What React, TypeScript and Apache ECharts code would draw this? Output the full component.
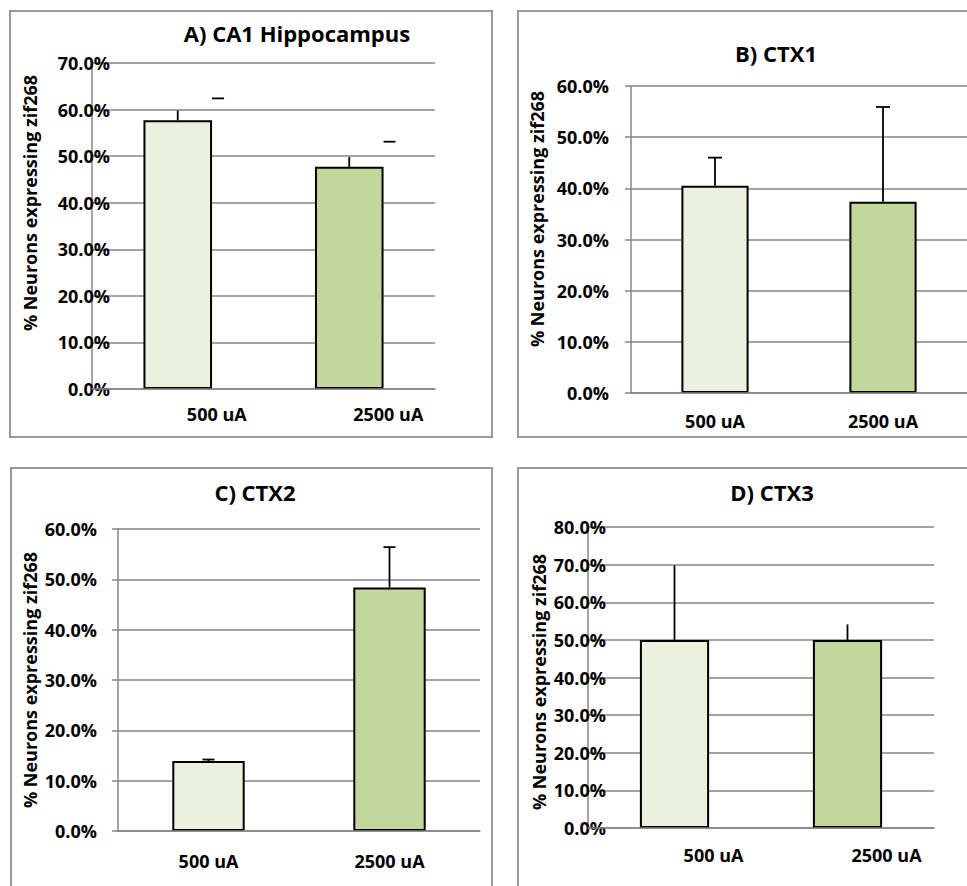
import React, { useEffect, useRef } from "react";
import * as echarts from "echarts";

const categories = ["500 uA", "2500 uA"];
const titles = ["A) CA1 Hippocampus", "B) CTX1", "C) CTX2", "D) CTX3"];
const yTitle = "% Neurons expressing zif268";

const aValues = [57.7, 47.7];
const aErrTop = [59.8, 49.8];
const aStray = [62.4, 53.1];
const bValues = [40.5, 37.4];
const bErrTop = [46.0, 55.9];
const cValues = [13.9, 48.4];
const cErrTop = [14.2, 56.4];
const dValues = [50.0, 50.0];
const dErrTop = [69.8, 54.1];
const yMaxes = [70, 60, 60, 80];

const panelValues = [aValues, bValues, cValues, dValues];
const panelErrTops = [aErrTop, bErrTop, cErrTop, dErrTop];

const barColors = ["#EBF1DE", "#C3D69B"];
const FONT = "'Open Sans', Lato, sans-serif";
const GRID_COLOR = "#868686";

const layout = [
  { grid: { left: 92, top: 63, width: 343, height: 326 }, frame: [10, 11, 482, 426], title: [297, 33], yName: [30, 203], labelMargin: -18, tick: false, xPad: 78, xMargin: 16, cap: 0 },
  { grid: { left: 631, top: 86, width: 340, height: 307 }, frame: [518, 11, 470, 426], title: [776, 53], yName: [537, 219], labelMargin: 22, tick: true, xPad: 0, xMargin: 19, cap: 14 },
  { grid: { left: 118, top: 529, width: 362, height: 302 }, frame: [11, 468, 481, 440], title: [255, 492], yName: [30, 680], labelMargin: 21, tick: true, xPad: 0, xMargin: 21, cap: 12 },
  { grid: { left: 588, top: 527, width: 346, height: 301 }, frame: [518, 468, 470, 440], title: [772, 492], yName: [539, 682], labelMargin: -18, tick: false, xPad: 78, xMargin: 18, cap: 0 },
];

function buildOption() {
  const grids: any[] = [];
  const xAxes: any[] = [];
  const yAxes: any[] = [];
  const series: any[] = [];
  const graphic: any[] = [];

  layout.forEach((L, i) => {
    grids.push({ ...L.grid, containLabel: false });
    xAxes.push({
      type: "category",
      gridIndex: i,
      data: categories,
      z: 4,
      axisTick: { show: false },
      axisLine: { show: true, lineStyle: { color: GRID_COLOR, width: 1.5 } },
      axisLabel: {
        fontFamily: FONT,
        fontWeight: "bold",
        fontSize: 18,
        color: "#000",
        margin: L.xMargin,
        padding: [0, 0, 0, L.xPad],
      },
    });
    yAxes.push({
      type: "value",
      gridIndex: i,
      min: 0,
      max: yMaxes[i],
      interval: 10,
      axisLine: { show: true, lineStyle: { color: GRID_COLOR, width: 1.5 } },
      axisTick: { show: L.tick, length: 6, lineStyle: { color: GRID_COLOR, width: 1.5 } },
      splitLine: { show: true, lineStyle: { color: GRID_COLOR, width: 1.5 } },
      axisLabel: {
        fontFamily: FONT,
        fontWeight: "bold",
        fontSize: 18,
        color: "#000",
        margin: L.labelMargin,
        formatter: (v: number) => v.toFixed(1) + "%",
      },
    });
    series.push({
      type: "bar",
      xAxisIndex: i,
      yAxisIndex: i,
      barWidth: "40%",
      data: panelValues[i].map((v, k) => ({ value: v, itemStyle: { color: barColors[k] } })),
      itemStyle: { borderColor: "#000", borderWidth: 2 },
      z: 2,
    });
    const cap = L.cap;
    series.push({
      type: "custom",
      xAxisIndex: i,
      yAxisIndex: i,
      z: 3,
      data: panelValues[i].map((v, k) => [k, v, panelErrTops[i][k]]),
      renderItem: (params: any, api: any) => {
        const c = api.value(0);
        const p0 = api.coord([c, api.value(1)]);
        const p1 = api.coord([c, api.value(2)]);
        const children: any[] = [
          { type: "line", shape: { x1: p0[0], y1: p0[1], x2: p1[0], y2: p1[1] }, style: { stroke: "#000", lineWidth: 1.8 } },
        ];
        if (cap > 0) {
          children.push({ type: "line", shape: { x1: p1[0] - cap / 2, y1: p1[1], x2: p1[0] + cap / 2, y2: p1[1] }, style: { stroke: "#000", lineWidth: 1.8 } });
        }
        return { type: "group", children };
      },
    });
    graphic.push({
      type: "rect",
      shape: { x: L.frame[0], y: L.frame[1], width: L.frame[2], height: L.frame[3] },
      style: { fill: "none", stroke: "#999999", lineWidth: 2 },
      silent: true,
    });
    graphic.push({
      type: "text",
      x: L.title[0],
      y: L.title[1],
      style: { text: titles[i], fontFamily: FONT, fontWeight: "bold", fontSize: 22, fill: "#000", textAlign: "center", textVerticalAlign: "middle" },
    });
    graphic.push({
      type: "text",
      x: L.yName[0],
      y: L.yName[1],
      rotation: Math.PI / 2,
      style: { text: yTitle, fontFamily: FONT, fontWeight: "bold", fontSize: 18, fill: "#000", textAlign: "center", textVerticalAlign: "middle" },
    });
  });

  // stray error-cap dashes in panel A
  series.push({
    type: "custom",
    xAxisIndex: 0,
    yAxisIndex: 0,
    z: 3,
    data: aStray.map((y, k) => [k, y]),
    renderItem: (params: any, api: any) => {
      const p = api.coord([api.value(0), api.value(1)]);
      const half = api.size([1, 0])[0] * 0.2;
      return { type: "line", shape: { x1: p[0] + half, y1: p[1], x2: p[0] + half + 12, y2: p[1] }, style: { stroke: "#000", lineWidth: 1.8 } };
    },
  });

  return {
    animation: false,
    backgroundColor: "#ffffff",
    grid: grids,
    xAxis: xAxes,
    yAxis: yAxes,
    series,
    graphic,
  };
}

export default function App() {
  const ref = useRef<HTMLDivElement>(null);
  useEffect(() => {
    if (!ref.current) return;
    const chart = echarts.init(ref.current, undefined, { renderer: "svg" });
    chart.setOption(buildOption() as any);
    return () => chart.dispose();
  }, []);
  return <div ref={ref} style={{ position: "absolute", left: 0, top: 0, width: 967, height: 886 }} />;
}
